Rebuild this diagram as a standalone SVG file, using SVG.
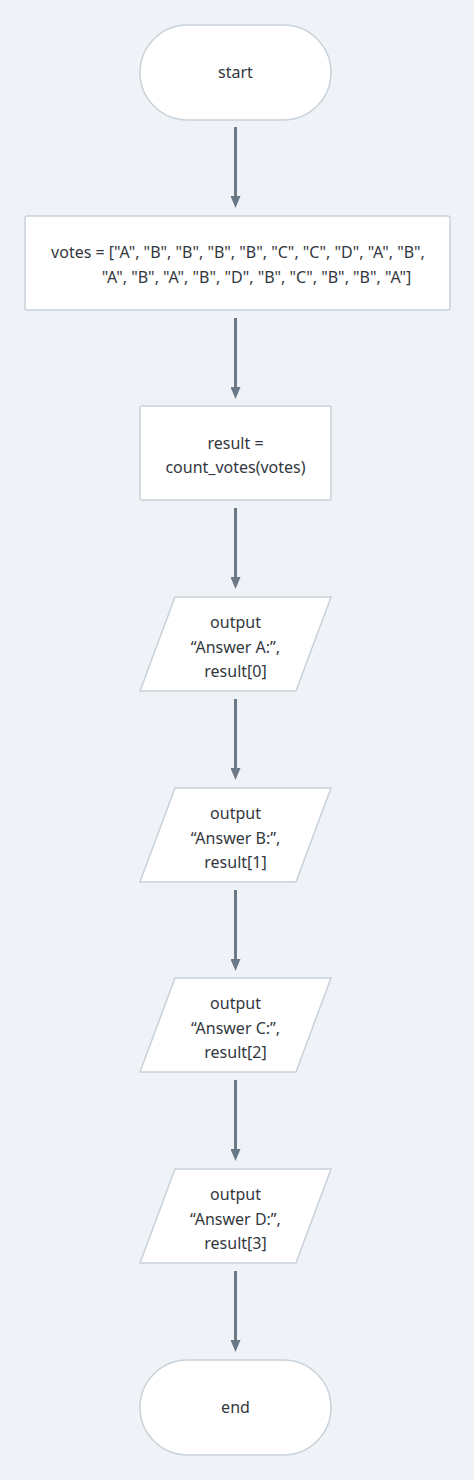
<svg xmlns="http://www.w3.org/2000/svg" width="474" height="1480" viewBox="0 0 474 1480">
<style>
.bg{fill:#eff3f7}
.n{fill:#ffffff;stroke:#c9d1d9;stroke-width:1.5}
.t{font-family:"Noto Sans","Liberation Sans",sans-serif;font-size:16px;fill:#333840;text-anchor:middle}
.c{stroke:#6b7886;stroke-width:3;fill:none}
</style>
<defs>
<marker id="ah" markerWidth="12" markerHeight="10" refX="1" refY="5" orient="auto" markerUnits="userSpaceOnUse">
<path d="M0,0 L12,5 L0,10 Z" fill="#6b7886"/>
</marker>
</defs>
<rect class="bg" x="0" y="0" width="474" height="1480"/>
<g id="connectors">
<line class="c" x1="235.5" y1="127" x2="235.5" y2="197" marker-end="url(#ah)"/>
<line class="c" x1="235.5" y1="318" x2="235.5" y2="388" marker-end="url(#ah)"/>
<line class="c" x1="235.5" y1="508" x2="235.5" y2="578" marker-end="url(#ah)"/>
<line class="c" x1="235.5" y1="699" x2="235.5" y2="769" marker-end="url(#ah)"/>
<line class="c" x1="235.5" y1="890" x2="235.5" y2="960" marker-end="url(#ah)"/>
<line class="c" x1="235.5" y1="1080" x2="235.5" y2="1150" marker-end="url(#ah)"/>
<line class="c" x1="235.5" y1="1271" x2="235.5" y2="1341" marker-end="url(#ah)"/>
</g>
<g id="start">
<rect class="n" x="140" y="25" width="191" height="95" rx="47.5"/>
<text class="t" x="235.5" y="78">start</text>
</g>
<g id="votes">
<rect class="n" x="25" y="216" width="425" height="94" rx="2"/>
<text class="t" x="238" y="258">votes = ["A", "B", "B", "B", "B", "C", "C", "D", "A", "B",</text>
<text class="t" x="256.5" y="283">"A", "B", "A", "B", "D", "B", "C", "B", "B", "A"]</text>
</g>
<g id="result">
<rect class="n" x="140" y="406" width="191" height="94" rx="2"/>
<text class="t" x="235.5" y="449">result =</text>
<text class="t" x="235.5" y="473">count_votes(votes)</text>
</g>
<g id="outA">
<path class="n" d="M175,597 L331,597 L296,691 L140,691 Z"/>
<text class="t" x="235.5" y="628">output</text>
<text class="t" x="235.5" y="653">“Answer A:”,</text>
<text class="t" x="235.5" y="677">result[0]</text>
</g>
<g id="outB">
<path class="n" d="M175,788 L331,788 L296,882 L140,882 Z"/>
<text class="t" x="235.5" y="819">output</text>
<text class="t" x="235.5" y="844">“Answer B:”,</text>
<text class="t" x="235.5" y="868">result[1]</text>
</g>
<g id="outC">
<path class="n" d="M175,978 L331,978 L296,1072 L140,1072 Z"/>
<text class="t" x="235.5" y="1009">output</text>
<text class="t" x="235.5" y="1034">“Answer C:”,</text>
<text class="t" x="235.5" y="1058">result[2]</text>
</g>
<g id="outD">
<path class="n" d="M175,1169 L331,1169 L296,1263 L140,1263 Z"/>
<text class="t" x="235.5" y="1200">output</text>
<text class="t" x="235.5" y="1225">“Answer D:”,</text>
<text class="t" x="235.5" y="1249">result[3]</text>
</g>
<g id="end">
<rect class="n" x="140" y="1360" width="191" height="95" rx="47.5"/>
<text class="t" x="235.5" y="1413">end</text>
</g>
</svg>
